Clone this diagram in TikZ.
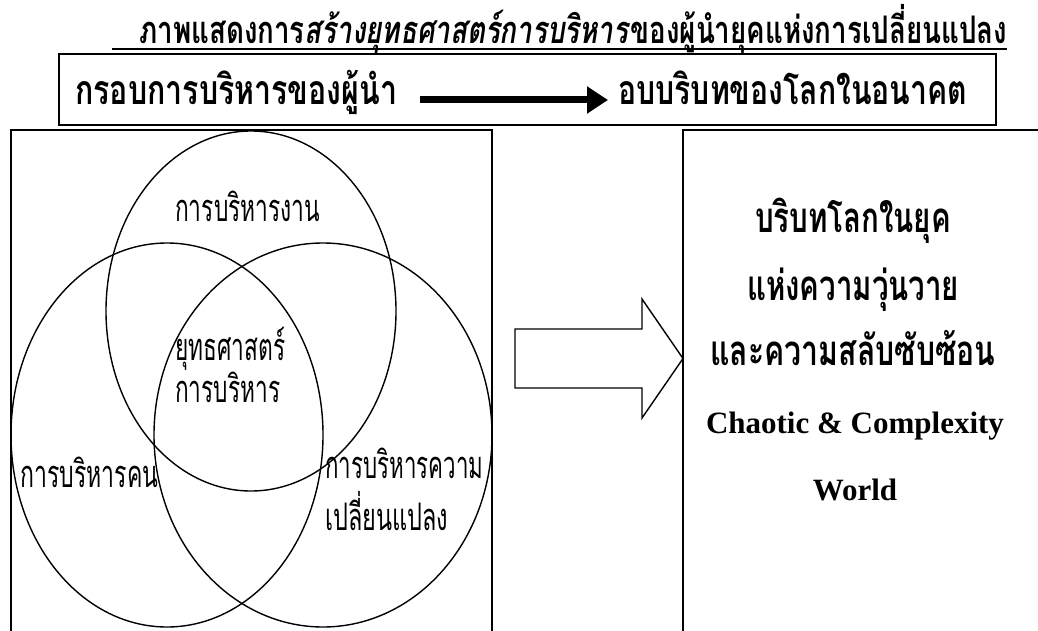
\documentclass[tikz,border=0pt]{standalone}
\usepackage{fontspec}
\usepackage{graphicx}
\setmainfont{Liberation Serif}
\newfontfamily\thaifont[Script=Thai]{Loma}
\usetikzlibrary{arrows.meta}

% squeeze a text to a given width (pt), keeping its height
\newcommand{\fitw}[2]{\sbox0{#2}\pgfmathsetmacro{\fitr}{#1/\the\wd0}\scalebox{\fitr}[1]{#2}}

\tikzset{
  frameline/.style={line width=1.4pt},
  vennline/.style={line width=1.4pt},
  titletext/.style={inner sep=0pt, font=\thaifont\bfseries\fontsize{38}{38}\selectfont},
  headtext/.style={inner sep=0pt, font=\thaifont\bfseries\fontsize{41}{41}\selectfont},
  venntext/.style={inner sep=0pt, anchor=base west, font=\thaifont\fontsize{38}{38}\selectfont},
  ctxthai/.style={inner sep=0pt, anchor=base, font=\thaifont\bfseries\fontsize{42}{42}\selectfont},
  ctxlatin/.style={inner sep=0pt, anchor=base, font=\bfseries\fontsize{31}{31}\selectfont}
}

\begin{document}
\begin{tikzpicture}[x=1pt,y=-1pt]
                \useasboundingbox (0,0) rectangle (1038,631);

                % Title with underline
                \node [titletext, anchor=base west] (title) at (139,44) {\fitw{868}{ภาพแสดงการ\textit{สร้างยุทธศาสตร์การบริหาร}ของผู้นำยุคแห่งการเปลี่ยนแปลง}};%
                \draw [line width=1.4pt] (112,49) -- (1007,49);%

                % Header box
                \draw [frameline] (59,54) rectangle (996,125);%
                \node [headtext, anchor=base west] (frame) at (75,105) {\fitw{322}{กรอบการบริหารของผู้นำ}};%
                \node [headtext, anchor=base west] (context) at (618,105) {\fitw{349}{อบบริบทของโลกในอนาคต}};%
                \draw [line width=7pt, -{Triangle[length=21pt,width=26pt]}, shorten <=23pt, shorten >=10pt]
                      ([yshift=5pt]frame.base east) -- ([yshift=5pt]context.base west);%

                % Left box (open at the bottom)
                \draw [frameline] (11,640) -- (11,130) -- (492,130) -- (492,640);%

                % Right box
                \draw [frameline] (683,640) -- (683,130) -- (1045,130);%

                % Venn ellipses
                \draw [vennline] (251,311) ellipse [x radius=145, y radius=180];%
                \draw [vennline] (167,435) ellipse [x radius=156, y radius=192];%
                \draw [vennline] (323,435) ellipse [x radius=169, y radius=192];%

                % Venn labels
                \node [venntext] (task) at (175,222) {\fitw{145}{การบริหารงาน}};%
                \node [venntext] (core1) at (175,360) {\fitw{110}{ยุทธศาสตร์}};%
                \node [venntext] (core2) at (175,402) {\fitw{105}{การบริหาร}};%
                \node [venntext] (people) at (20,487) {\fitw{138}{การบริหารคน}};%
                \node [venntext] (change1) at (325,478) {\fitw{158}{การบริหารความ}};%
                \node [venntext] (change2) at (325,530) {\fitw{123}{เปลี่ยนแปลง}};%

                % Block arrow
                \draw [frameline] (515,329) -- (642,329) -- (642,299) -- (683,358.5)
                      -- (642,418) -- (642,388) -- (515,388) -- cycle;%

                % Right box text
                \node [ctxthai] (ctx1) at (853,233) {\fitw{196}{บริบทโลกในยุค}};%
                \node [ctxthai] (ctx2) at (853,300) {\fitw{212}{แห่งความวุ่นวาย}};%
                \node [ctxthai] (ctx3) at (853,365) {\fitw{285}{และความสลับซับซ้อน}};%
                \node [ctxlatin] (ctx4) at (855,433) {Chaotic \& Complexity};%
                \node [ctxlatin] (ctx5) at (855,500) {World};%
\end{tikzpicture}
\end{document}
